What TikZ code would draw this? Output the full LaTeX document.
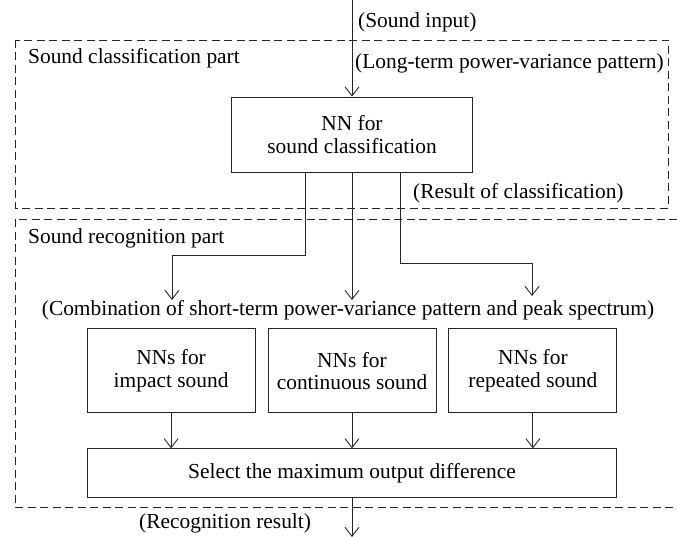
\documentclass[tikz,border=0pt]{standalone}
\usepackage{fontspec}
\setmainfont{Liberation Serif}
\usetikzlibrary{arrows.meta,positioning}
\tikzset{
  block/.style={
    rectangle,
    draw=black!85,
    line width=0.9pt,
    align=center,
    font=\fontsize{21.4}{22.5}\selectfont
  },
  nnblock/.style={
    block,
    minimum width=241pt,
    minimum height=75pt
  },
  smallblock/.style={
    block,
    minimum width=168pt,
    minimum height=84pt
  },
  wideblock/.style={
    block,
    minimum width=529pt,
    minimum height=49pt
  },
  label/.style={
    inner sep=0pt,
    font=\fontsize{21.4}{22.5}\selectfont
  },
  part/.style={
    draw=black!85,
    line width=0.9pt,
    dash pattern=on 8pt off 4.5pt
  },
  arrow/.style={
    -{Straight Barb[length=9pt,width=14pt]},
    line width=0.9pt,
    draw=black!85
  }
}
\begin{document}
\begin{tikzpicture}[x=1pt,y=1pt,node distance=12pt and 12pt]
  \useasboundingbox (0,0) rectangle (677,-537);
  \node[nnblock] (nn) at (352,-134.5) {NN for\\sound classification};
  \node[smallblock, below=156pt of nn] (continuous) {NNs for\\continuous sound};
  \node[smallblock, left=of continuous] (impact) {NNs for\\impact sound};
  \node[smallblock, right=of continuous] (repeated) {NNs for\\repeated sound};
  \node[wideblock, below=35pt of continuous] (select) {Select the maximum output difference};

  % dashed parts
  \draw[part] (15,-40) rectangle (668,-208);
  \draw[part] (677,-219) -| (15,-507) -- (677,-507);
  \node[label, anchor=base west] (classpart) at (28,-64) {Sound classification part};
  \node[label, anchor=base west] (recogpart) at (28,-244) {Sound recognition part};

  % texts on the connectors
  \node[label, anchor=base west] (soundin) at (358,-28) {(Sound input)};
  \node[label, anchor=base west] (longterm) at (355,-69) {(Long-term power-variance pattern)};
  \node[label, anchor=base west] (result) at (413,-199) {(Result of classification)};
  \node[label, anchor=base] (combo) at (348,-316) {(Combination of short-term power-variance pattern and peak spectrum)};
  \node[label, anchor=base west] (recres) at (139,-528) {(Recognition result)};

  \coordinate (in) at (352,0);
  \coordinate (out) at (352,-537);
  \coordinate (kneeL) at (305,-255);
  \coordinate (kneeR) at (400,-263);
  \coordinate (tipL) at (172,-300);
  \coordinate (tipM) at (352,-300);
  \coordinate (tipR) at (532,-296);

  \draw[arrow] (in) -- (nn);
  \draw[arrow] (nn.south -| kneeL) -- (kneeL) -| (tipL);
  \draw[arrow] (nn.south -| tipM) -- (tipM);
  \draw[arrow] (nn.south -| kneeR) -- (kneeR) -| (tipR);
  \draw[arrow] (impact) -- (impact |- select.north);
  \draw[arrow] (continuous) -- (select);
  \draw[arrow] (repeated) -- (repeated |- select.north);
  \draw[arrow] (select) -- (out);
\end{tikzpicture}
\end{document}
